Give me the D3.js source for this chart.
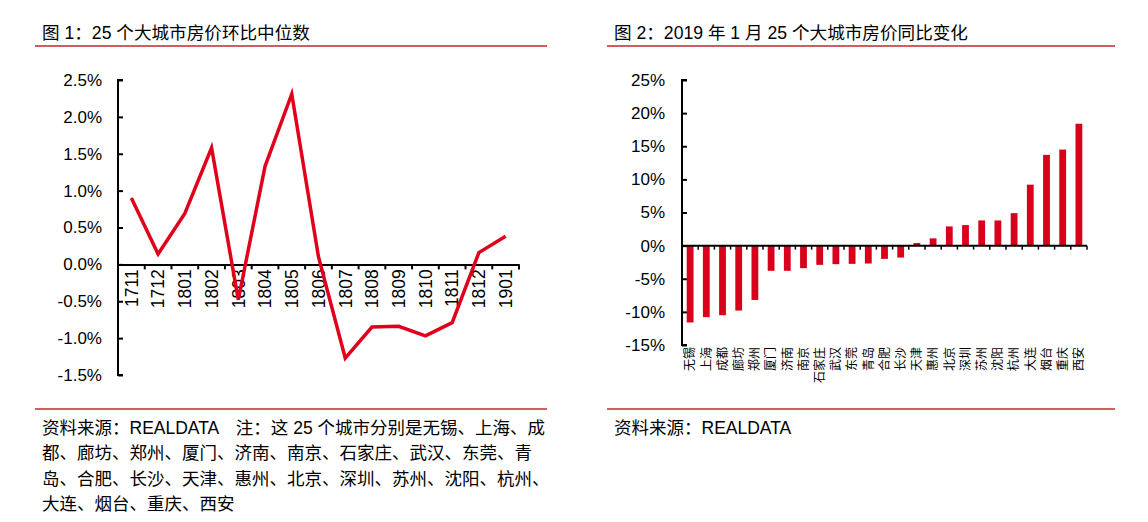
<!DOCTYPE html>
<html><head><meta charset="utf-8">
<script src="https://cdn.jsdelivr.net/npm/d3@7"></script>
<style>
body{margin:0;background:#fff;}
svg{display:block;font-family:"Liberation Sans","Noto Sans CJK SC",Arial,sans-serif;}
</style></head>
<body>
<svg id="c" width="1148" height="522"></svg>
<script>
// ---- data ----
const months = ["1711","1712","1801","1802","1803","1804","1805","1806","1807","1808","1809","1810","1811","1812","1901"];
const momMedian = [0.90,0.14,0.69,1.58,-0.48,1.33,2.31,0.10,-1.27,-0.85,-0.84,-0.97,-0.79,0.16,0.38];
const leftTicks = [2.5,2.0,1.5,1.0,0.5,0.0,-0.5,-1.0,-1.5];

const cities = ["无锡","上海","成都","廊坊","郑州","厦门","济南","南京","石家庄","武汉","东莞","青岛","合肥","长沙","天津","惠州","北京","深圳","苏州","沈阳","杭州","大连","烟台","重庆","西安"];
const yoyChange = [-11.6,-10.8,-10.5,-9.8,-8.2,-3.8,-3.8,-3.4,-2.9,-2.8,-2.75,-2.7,-2.0,-1.8,0.4,1.1,2.9,3.1,3.8,3.8,4.9,9.2,13.7,14.5,18.4];
const rightTicks = [25,20,15,10,5,0,-5,-10,-15];

const title1 = "图 1：25 个大城市房价环比中位数";
const title2 = "图 2：2019 年 1 月 25 个大城市房价同比变化";
const note1 = ["资料来源：REALDATA　注：这 25 个城市分别是无锡、上海、成",
               "都、廊坊、郑州、厦门、济南、南京、石家庄、武汉、东莞、青",
               "岛、合肥、长沙、天津、惠州、北京、深圳、苏州、沈阳、杭州、",
               "大连、烟台、重庆、西安"];
const note2 = ["资料来源：REALDATA"];

// ---- drawing ----
const svg = d3.select("#c");
const RED = "#e0001b";
const RULE = "#c9252c";

function frame(x0, x1, title, notes){
  svg.append("text").attr("x", x0+7).attr("y", 39).attr("font-size", 17.6).attr("fill","#000").text(title);
  svg.append("line").attr("x1",x0).attr("x2",x1).attr("y1",46).attr("y2",46).attr("stroke",RULE).attr("stroke-width",1.3);
  svg.append("line").attr("x1",x0).attr("x2",x1).attr("y1",409).attr("y2",409).attr("stroke",RULE).attr("stroke-width",1.3);
  notes.forEach((t,i)=>{
    svg.append("text").attr("x", x0+7).attr("y", 434+i*25.3).attr("font-size", 17.5).attr("fill","#000").text(t);
  });
}
frame(35, 547, title1, note1);
frame(607, 1115, title2, note2);

// ---- left line chart ----
{
  const xl = 118, xr = 519, yt = 80, yb = 375;
  const y = d3.scaleLinear().domain([-1.5,2.5]).range([yb,yt]);
  const x = d3.scaleBand().domain(months).range([xl,xr]);
  const g = svg.append("g");
  const yAx = d3.axisRight(y).tickValues(leftTicks).tickSize(5).tickFormat(d=>d.toFixed(1)+"%");
  const ga = g.append("g").attr("transform",`translate(${xl},0)`).call(yAx);
  ga.select(".domain").attr("stroke","#000").attr("stroke-width",2).attr("d",`M5,${yt}H0V${yb}H5`);
  ga.selectAll(".tick line").attr("stroke","#000").attr("stroke-width",2);
  ga.selectAll(".tick text").attr("x",-16).attr("text-anchor","end").attr("font-size",17).attr("fill","#000")
    .attr("font-family","Liberation Sans, Arial, sans-serif");
  // x axis at zero
  const y0 = y(0);
  const xAx = d3.axisBottom(x).tickSize(0).tickSizeOuter(0);
  const gx = g.append("g").attr("transform",`translate(0,${y0})`).call(xAx);
  gx.select(".domain").attr("stroke","#000").attr("stroke-width",2);
  gx.selectAll(".tick text").attr("font-size",17.5).attr("fill","#000")
    .attr("font-family","Liberation Sans, Arial, sans-serif")
    .attr("transform","rotate(-90)").attr("text-anchor","end").attr("x",-5).attr("y",0).attr("dy","0.36em");
  // boundary ticks
  const bounds = months.map(m=>x(m)).concat([xr]).slice(1);
  g.selectAll(".bt").data(bounds).join("line").attr("x1",d=>d).attr("x2",d=>d)
    .attr("y1",y0).attr("y2",y0+5).attr("stroke","#000").attr("stroke-width",2);
  const line = d3.line().x((d,i)=>x(months[i])+x.bandwidth()/2).y(d=>y(d));
  g.append("path").datum(momMedian).attr("d",line).attr("fill","none").attr("stroke",RED)
    .attr("stroke-width",3.5).attr("stroke-linejoin","miter");
}

// ---- right bar chart ----
{
  const xl = 682, xr = 1087, yt = 80, yb = 345;
  const y = d3.scaleLinear().domain([-15,25]).range([yb,yt]);
  const x = d3.scaleBand().domain(cities).range([xl,xr]).paddingInner(0.58).paddingOuter(0.29);
  const g = svg.append("g");
  const yAx = d3.axisRight(y).tickValues(rightTicks).tickSize(5).tickFormat(d=>d+"%");
  const ga = g.append("g").attr("transform",`translate(${xl},0)`).call(yAx);
  ga.select(".domain").attr("stroke","#000").attr("stroke-width",2).attr("d",`M5,${yt}H0V${yb}H5`);
  ga.selectAll(".tick line").attr("stroke","#000").attr("stroke-width",2);
  ga.selectAll(".tick text").attr("x",-17).attr("text-anchor","end").attr("font-size",17).attr("fill","#000")
    .attr("font-family","Liberation Sans, Arial, sans-serif");
  const y0 = y(0);
  g.selectAll(".bar").data(yoyChange).join("rect")
    .attr("x",(d,i)=>x(cities[i])).attr("width",x.bandwidth())
    .attr("y",d=>Math.min(y(d),y0)).attr("height",d=>Math.abs(y(d)-y0))
    .attr("fill","#d9001b");
  const xAx = d3.axisBottom(x).tickSize(0).tickSizeOuter(0);
  const gx = g.append("g").attr("transform",`translate(0,${y0})`).call(xAx);
  gx.select(".domain").attr("stroke","#000").attr("stroke-width",2).attr("d",`M${xl},0H${xr}`);
  gx.selectAll(".tick text").remove();
  const bounds = d3.range(1, cities.length+1).map(i=>xl+i*(xr-xl)/cities.length);
  g.selectAll(".bt").data(bounds).join("line").attr("x1",d=>d).attr("x2",d=>d)
    .attr("y1",y0).attr("y2",y0+4).attr("stroke","#000").attr("stroke-width",1.5);
  // category labels along bottom
  g.selectAll(".cl").data(cities).join("text")
    .attr("transform",d=>`translate(${x(d)+x.bandwidth()/2},347) rotate(-90)`)
    .attr("text-anchor","end").attr("dy","0.36em").attr("font-size",12)
    .attr("font-family","Noto Sans CJK SC, sans-serif").attr("fill","#000").text(d=>d);
}
</script>
</body></html>
